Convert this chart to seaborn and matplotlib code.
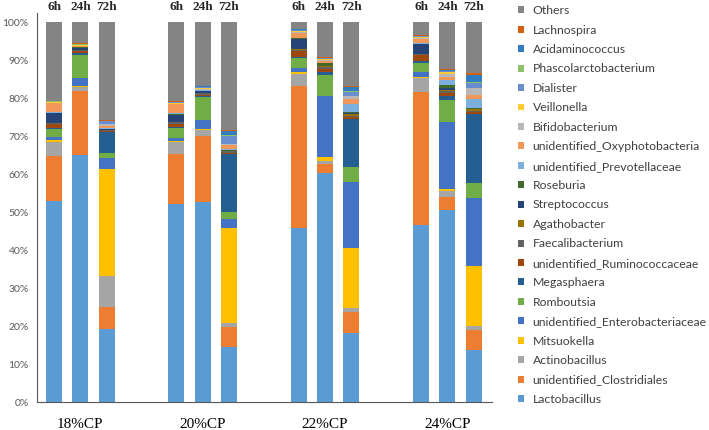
import pandas as pd
import seaborn as sns
import matplotlib.pyplot as plt
from matplotlib.ticker import PercentFormatter

groups = ["18%CP", "20%CP", "22%CP", "24%CP"]
times = ["6h", "24h", "72h"]

# stack order, bottom to top (12 bars: 18%CP 6h/24h/72h, 20%CP ..., 22%CP ..., 24%CP ...)
genera = ["Lactobacillus", "unidentified_Clostridiales", "Actinobacillus", "Mitsuokella",
          "unidentified_Enterobacteriaceae", "Romboutsia", "Megasphaera",
          "unidentified_Ruminococcaceae", "Faecalibacterium", "Agathobacter",
          "Streptococcus", "Roseburia", "unidentified_Prevotellaceae",
          "unidentified_Oxyphotobacteria", "Bifidobacterium", "Veillonella",
          "Dialister", "Phascolarctobacterium", "Acidaminococcus", "Lachnospira", "Others"]

lactobacillus = [53.0, 65.0, 19.2, 52.2, 52.6, 14.6, 45.8, 60.3, 18.2, 46.8, 50.6, 13.9]
clostridiales = [11.8, 16.9, 5.8, 13.1, 17.5, 5.3, 37.4, 2.4, 5.5, 34.8, 3.5, 5.1]
actinobacillus = [3.8, 1.0, 8.3, 3.2, 1.6, 1.1, 3.3, 0.9, 1.1, 3.7, 1.6, 1.1]
mitsuokella = [0.3, 0.3, 28.1, 0.2, 0.3, 24.8, 0.3, 0.9, 15.7, 0.3, 0.5, 15.9]
enterobacteriaceae = [0.9, 2.2, 2.8, 0.8, 2.3, 2.4, 1.1, 16.1, 17.6, 1.3, 17.5, 17.9]
romboutsia = [2.2, 6.1, 1.5, 2.7, 5.9, 2.0, 2.8, 5.6, 3.7, 2.5, 5.9, 3.9]
megasphaera = [0.3, 0.5, 5.3, 0.3, 0.5, 15.2, 0.2, 0.8, 12.8, 0.3, 1.1, 18.0]
ruminococcaceae = [1.0, 0.3, 0.3, 0.8, 0.2, 0.2, 1.4, 0.7, 0.5, 1.6, 0.6, 0.7]
faecalibacterium = [0.2, 0.4, 0.3, 0.4, 0.4, 0.4, 0.5, 0.5, 0.2, 0.3, 0.5, 0.1]
agathobacter = [0.1, 0.1, 0.1, 0.1, 0.1, 0.1, 0.1, 0.2, 0.6, 0.1, 0.4, 0.6]
streptococcus = [2.5, 0.5, 0.1, 1.9, 0.5, 0.1, 2.8, 0.2, 0.1, 2.5, 0.6, 0.1]
roseburia = [0.1, 0.1, 0.1, 0.2, 0.1, 0.1, 0.1, 0.6, 0.3, 0.1, 0.6, 0.1]
prevotellaceae = [0.2, 0.1, 0.2, 0.1, 0.1, 0.4, 0.1, 0.1, 2.3, 0.1, 1.3, 2.4]
oxyphotobacteria = [2.3, 0.2, 0.6, 2.4, 0.2, 0.9, 1.3, 0.4, 1.2, 1.2, 0.8, 1.1]
bifidobacterium = [0.1, 0.1, 0.4, 0.2, 0.1, 0.3, 0.3, 0.3, 0.7, 0.3, 1.0, 1.7]
veillonella = [0.2, 0.2, 0.1, 0.2, 0.4, 0.1, 0.3, 0.4, 0.1, 0.3, 0.5, 0.2]
dialister = [0.1, 0.1, 0.7, 0.1, 0.1, 2.2, 0.1, 0.1, 1.1, 0.1, 0.1, 1.3]
phascolarctobacterium = [0.1, 0.1, 0.1, 0.1, 0.1, 0.1, 0.1, 0.1, 0.1, 0.1, 0.1, 0.2]
acidaminococcus = [0.1, 0.1, 0.1, 0.1, 0.1, 1.2, 0.1, 0.1, 1.1, 0.1, 0.1, 1.8]
lachnospira = [0.1, 0.1, 0.1, 0.1, 0.1, 0.2, 0.1, 0.2, 0.3, 0.1, 0.4, 0.5]
others = [20.6, 5.6, 25.8, 20.8, 16.8, 28.3, 1.8, 9.1, 16.8, 3.4, 12.3, 13.4]

series = [lactobacillus, clostridiales, actinobacillus, mitsuokella, enterobacteriaceae,
          romboutsia, megasphaera, ruminococcaceae, faecalibacterium, agathobacter,
          streptococcus, roseburia, prevotellaceae, oxyphotobacteria, bifidobacterium,
          veillonella, dialister, phascolarctobacterium, acidaminococcus, lachnospira, others]

colors = ["#5B9BD5", "#ED7D31", "#A5A5A5", "#FFC000", "#4472C4", "#70AD47", "#255E91",
          "#9E480E", "#636363", "#997300", "#264478", "#43682B", "#7CAFDD", "#F1975A",
          "#B7B7B7", "#FFCD33", "#698ED0", "#8CC168", "#327DC2", "#D26012", "#848484"]

# long table, one row per segment
group_step = 4.65
rows = []
for name, vals in zip(genera, series):
    for i, v in enumerate(vals):
        g, t = divmod(i, 3)
        rows.append({"bar": i, "pos": g * group_step + t, "genus": name, "value": v})
df = pd.DataFrame(rows)
df["top"] = df.groupby("bar")["value"].cumsum()

fig = plt.figure(figsize=(7.09, 4.30), dpi=100)
ax = fig.add_axes([0.0522, 0.064, 0.6418, 0.9065])

# draw from the top of the stack downward so lower segments cover upper ones
for name, col in zip(reversed(genera), reversed(colors)):
    sub = df[df["genus"] == name]
    sns.barplot(data=sub, x="pos", y="top", native_scale=True, color=col, saturation=1,
                width=0.61, linewidth=0, errorbar=None, label=name, ax=ax)

if ax.get_legend() is not None:
    ax.get_legend().remove()

ax.set_xlim(-0.646, 16.65)
ax.set_ylim(0, 102.5)
ax.set_yticks(range(0, 101, 10))
ax.yaxis.set_major_formatter(PercentFormatter(decimals=0))
ax.tick_params(axis="y", length=0, pad=6, labelsize=7.5, labelcolor="#595959")
for lab in ax.get_yticklabels():
    lab.set_family("Lato")

mids = [g * group_step + 1 for g in range(len(groups))]
ax.set_xticks(mids)
ax.set_xticklabels(groups, family="Liberation Serif", fontsize=11)
ax.tick_params(axis="x", length=0, pad=11)
ax.set_xlabel("")
ax.set_ylabel("")

for g in range(len(groups)):
    for t, lab in enumerate(times):
        ax.text(g * group_step + t, 1.0, lab, transform=ax.get_xaxis_transform(),
                ha="center", va="bottom", family="Liberation Serif", fontsize=9.5,
                fontweight="bold", color="#262626", clip_on=False)

for side in ["top", "right"]:
    ax.spines[side].set_visible(False)
ax.spines["left"].set_color("#595959")
ax.spines["bottom"].set_color("#595959")

handles, labels = ax.get_legend_handles_labels()
leg = fig.legend(handles, labels, loc="upper left", bbox_to_anchor=(0.7306, 0.988),
                 frameon=False, borderpad=0, borderaxespad=0,
                 handlelength=0.5, handleheight=0.5, handletextpad=0.7,
                 labelspacing=0.69, prop={"family": "Lato", "size": 8.8})
for txt in leg.get_texts():
    txt.set_color("#404040")

fig.savefig("out.png", dpi=100, facecolor="white")
